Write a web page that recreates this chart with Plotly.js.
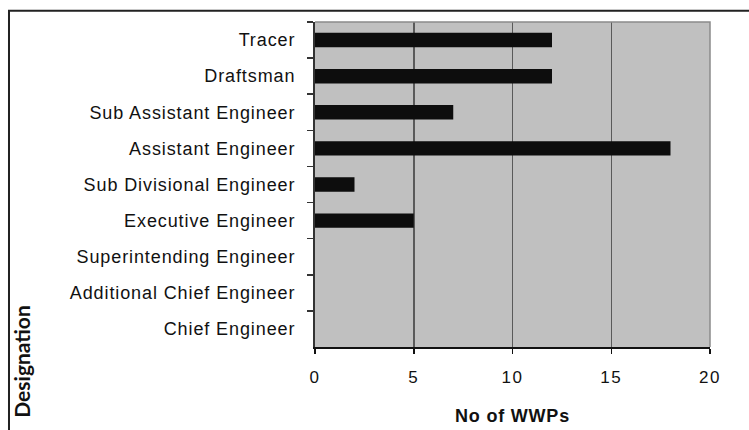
<!DOCTYPE html>
<html>
<head>
<meta charset="utf-8">
<script src="https://cdn.plot.ly/plotly-3.0.1.min.js"></script>
<style>
  html, body { margin: 0; padding: 0; background: #ffffff; }
  #chart { width: 749px; height: 430px; }
  #chart .ytick text { letter-spacing: 0.9px; }
  #chart .xtick text { letter-spacing: 1.5px; }
  #chart .xtitle { letter-spacing: 0.8px; }
</style>
</head>
<body>
<div id="chart"></div>
<script>
// Categories listed from top to bottom as in the reference
const designations = [
  "Tracer",
  "Draftsman",
  "Sub Assistant Engineer",
  "Assistant Engineer",
  "Sub Divisional Engineer",
  "Executive Engineer",
  "Superintending Engineer",
  "Additional Chief Engineer",
  "Chief Engineer"
];
const wwpCounts = [12, 12, 7, 18, 2, 5, 0, 0, 0];
const xTickValues = [0, 5, 10, 15, 20];
const xAxisTitle = "No of WWPs";
const yAxisTitle = "Designation";

const labelFont = "'Liberation Sans', Arial, sans-serif";

const trace = {
  type: "bar",
  orientation: "h",
  x: wwpCounts,
  y: designations,
  marker: { color: "#0d0d0d", line: { width: 0 } },
  hoverinfo: "x+y"
};

const layout = {
  width: 749,
  height: 430,
  margin: { l: 315, r: 39, t: 22, b: 83, pad: 0 },
  paper_bgcolor: "#ffffff",
  plot_bgcolor: "#c0c0c0",
  bargap: 0.6,
  showlegend: false,
  font: { family: labelFont, color: "#111111", size: 18 },
  xaxis: {
    range: [0, 20],
    tickvals: xTickValues,
    ticktext: xTickValues.map(String),
    ticks: "outside",
    ticklen: 5,
    tickwidth: 1.5,
    tickcolor: "#111111",
    ticklabelstandoff: 9,
    tickfont: { family: labelFont, size: 17, color: "#111111" },
    showgrid: true,
    gridcolor: "#5a5a5a",
    gridwidth: 1.5,
    zeroline: false,
    showline: true,
    linecolor: "#111111",
    linewidth: 1.5,
    fixedrange: true,
    title: {
      text: "<b>" + xAxisTitle + "</b>",
      font: { family: labelFont, size: 18, color: "#111111" },
      standoff: 23
    }
  },
  yaxis: {
    type: "category",
    autorange: "reversed",
    tickson: "boundaries",
    ticks: "outside",
    ticklen: 6,
    tickwidth: 1.5,
    tickcolor: "#333333",
    ticklabelstandoff: 14,
    tickfont: { family: labelFont, size: 18, color: "#111111" },
    showgrid: false,
    zeroline: false,
    showline: true,
    linecolor: "#333333",
    linewidth: 2,
    fixedrange: true
  },
  shapes: [
    {
      type: "path",
      xref: "paper", yref: "paper",
      path: "M 0,1 L 1,1 L 1,0",
      line: { color: "#8a8a8a", width: 1.5 },
      layer: "above"
    },
    {
      type: "path",
      xref: "paper", yref: "paper",
      path: "M -0.7747,-0.35 L -0.7747,1.035 L 1.2,1.035",
      line: { color: "#222222", width: 2 },
      layer: "above"
    }
  ],
  annotations: [
    {
      text: "<b>" + yAxisTitle + "</b>",
      xref: "paper", yref: "paper",
      x: -0.742, y: -0.224,
      xanchor: "center", yanchor: "bottom",
      textangle: -90,
      showarrow: false,
      font: { family: "Lato, 'Open Sans', sans-serif", size: 21, color: "#111111" }
    }
  ]
};

Plotly.newPlot("chart", [trace], layout, { displayModeBar: false, staticPlot: true });
</script>
</body>
</html>
